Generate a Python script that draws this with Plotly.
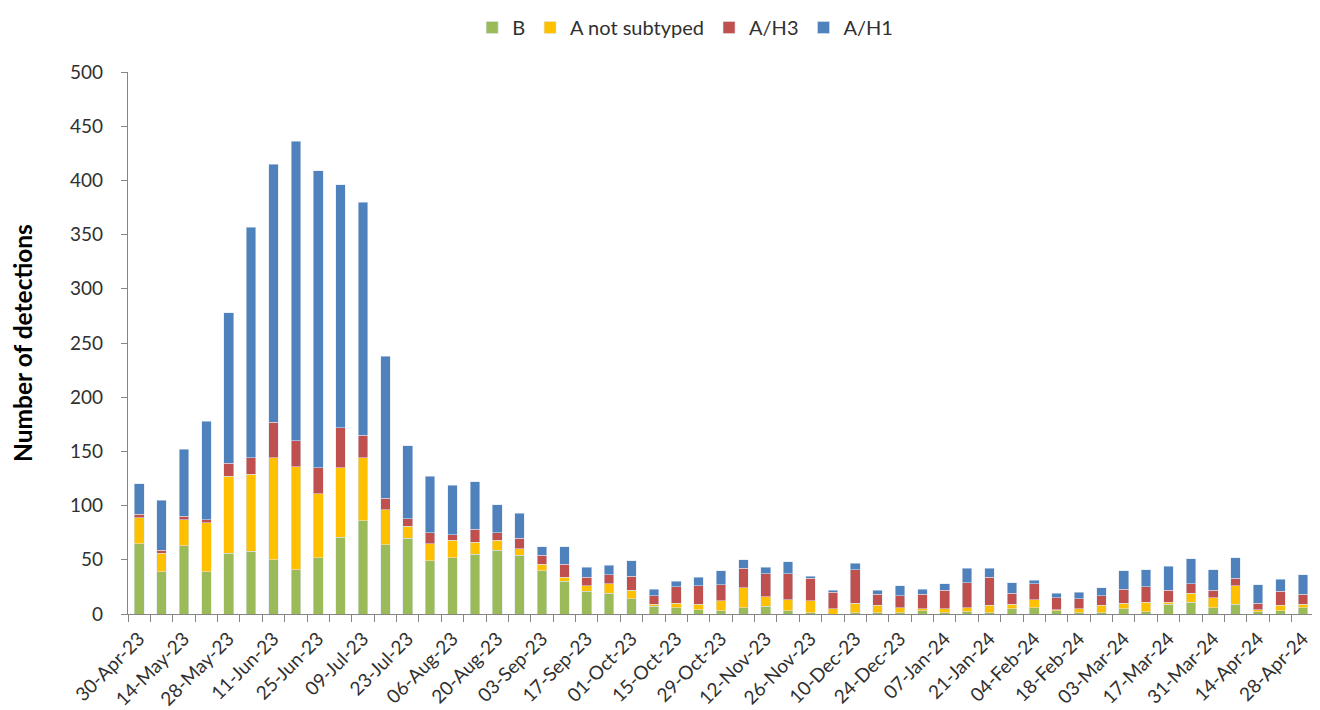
import plotly.graph_objects as go

weeks = ["30-Apr-23","07-May-23","14-May-23","21-May-23","28-May-23","04-Jun-23","11-Jun-23","18-Jun-23",
         "25-Jun-23","02-Jul-23","09-Jul-23","16-Jul-23","23-Jul-23","30-Jul-23","06-Aug-23","13-Aug-23",
         "20-Aug-23","27-Aug-23","03-Sep-23","10-Sep-23","17-Sep-23","24-Sep-23","01-Oct-23","08-Oct-23",
         "15-Oct-23","22-Oct-23","29-Oct-23","05-Nov-23","12-Nov-23","19-Nov-23","26-Nov-23","03-Dec-23",
         "10-Dec-23","17-Dec-23","24-Dec-23","31-Dec-23","07-Jan-24","14-Jan-24","21-Jan-24","28-Jan-24",
         "04-Feb-24","11-Feb-24","18-Feb-24","25-Feb-24","03-Mar-24","10-Mar-24","17-Mar-24","24-Mar-24",
         "31-Mar-24","07-Apr-24","14-Apr-24","21-Apr-24","28-Apr-24"]

b_vals = [65,39,63,39,56,58,50,41,52,71,86,64,70,
          49,52,55,59,54,40,30,21,19,14,7,6,4,
          3,6,7,3,1,0,1,1,1,3,1,2,1,
          5,6,3,1,1,5,2,9,11,6,9,2,3,6]
a_not_subtyped = [24,17,24,45,71,71,94,95,59,64,58,32,11,
                  16,16,11,9,6,6,4,5,9,8,2,4,5,
                  9,18,9,10,11,5,9,7,5,2,4,4,7,
                  4,7,1,4,7,5,9,2,8,9,17,2,5,3]
a_h3 = [3,3,3,3,12,15,33,24,24,37,21,11,7,
        10,5,12,7,10,8,12,8,8,13,8,15,17,
        15,18,21,24,21,15,31,10,11,13,17,23,26,
        10,15,11,9,9,13,14,11,9,7,7,6,13,9]
a_h1 = [28,46,62,91,139,213,238,276,274,224,215,131,67,
        52,46,44,26,23,8,16,9,9,14,6,5,8,
        13,8,6,11,2,2,6,4,9,5,6,13,8,
        10,3,4,6,7,17,16,22,23,19,19,17,11,18]

series = [
    ("B", b_vals, "#9BBB59"),
    ("A not subtyped", a_not_subtyped, "#FFC000"),
    ("A/H3", a_h3, "#C0504D"),
    ("A/H1", a_h1, "#4F81BD"),
]

x_idx = list(range(len(weeks)))
FONT = "Lato, 'Open Sans', sans-serif"
AX = "#868686"
TXT = "#303030"

fig = go.Figure()
for name, vals, col in series:
    fig.add_trace(go.Bar(
        x=x_idx, y=vals, name=name, marker_color=col,
        marker_line=dict(color="rgba(220,230,242,0.9)", width=0.6),
        customdata=weeks, hovertemplate="%{customdata}<br>" + name + ": %{y}<extra></extra>",
    ))

fig.update_layout(
    barmode="stack",
    bargap=0.57,
    width=1320, height=710,
    margin=dict(l=120, r=14, t=64, b=104, autoexpand=False),
    plot_bgcolor="white", paper_bgcolor="white",
    font=dict(family=FONT, size=19, color=TXT),
    legend=dict(orientation="h", x=0.513, xref="container", xanchor="center",
                y=1, yref="container", yanchor="top",
                font=dict(size=20, color=TXT), itemwidth=30, traceorder="normal"),
    showlegend=True,
)

fig.update_xaxes(
    range=[-0.5, len(weeks) - 0.5],
    automargin=False,
    tickmode="array",
    tickvals=x_idx[::2],
    ticktext=weeks[::2],
    tickangle=-45,
    ticks="",
    ticklabelstandoff=5,
    showline=True, linecolor=AX, linewidth=1.3,
    showgrid=False, zeroline=False,
    tickfont=dict(size=19, color=TXT),
    minor=dict(tick0=-0.5, dtick=1, ticks="outside", ticklen=7, tickcolor=AX, tickwidth=1.3, showgrid=False),
)

fig.update_yaxes(
    range=[0, 500],
    automargin=False,
    tickmode="linear", tick0=0, dtick=50,
    ticks="outside", ticklen=6, tickcolor=AX, tickwidth=1.3,
    ticklabelstandoff=14,
    showline=True, linecolor=AX, linewidth=1.3,
    showgrid=False, zeroline=False,
    tickfont=dict(size=19, color=TXT),
    title=dict(text="<b>Number of detections</b>", font=dict(size=24.5, color="#000000"), standoff=34),
)

fig.write_html("out.html")
